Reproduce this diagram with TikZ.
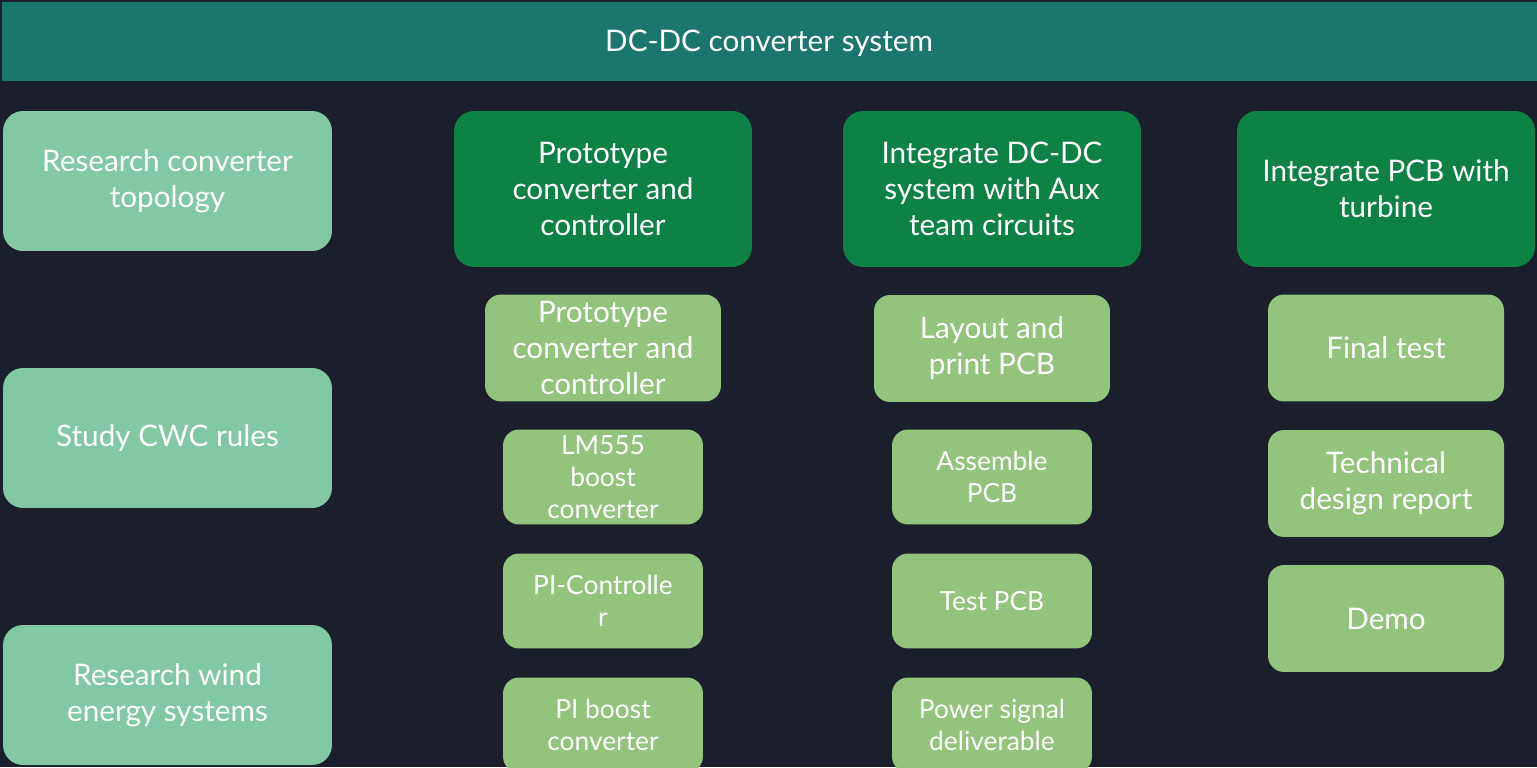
\documentclass[tikz,border=0pt]{standalone}
\usepackage{fontspec}
\setmainfont{Lato}
\usetikzlibrary{positioning}

\definecolor{bgdark}{HTML}{1B1F2B}
\definecolor{headteal}{HTML}{1B776D}
\definecolor{mint}{HTML}{82C8A5}
\definecolor{taskgreen}{HTML}{0E8145}
\definecolor{subgreen}{HTML}{92C47D}

\tikzset{
  every node/.style={text=white,align=center,inner sep=0pt},
  bigtxt/.style={font=\fontsize{16.9}{20.5}\selectfont},
  smalltxt/.style={font=\fontsize{15}{18.2}\selectfont},
  research/.style={bigtxt,fill=mint,rounded corners=0.4cm,minimum width=6.58cm,minimum height=2.8cm},
  task/.style={bigtxt,fill=taskgreen,rounded corners=0.4cm,minimum width=5.96cm,minimum height=3.12cm},
  subwide/.style={bigtxt,fill=subgreen,rounded corners=0.32cm,minimum width=4.72cm,minimum height=2.14cm},
  subnarrow/.style={smalltxt,fill=subgreen,rounded corners=0.32cm,minimum width=4cm,minimum height=1.9cm}
}

\begin{document}
\begin{tikzpicture}[x=0.02cm,y=-0.02cm]
\useasboundingbox (0,0) rectangle (1537,767);
\clip (0,0) rectangle (1537,767);
\fill[bgdark] (0,0) rectangle (1537,767);
\fill[headteal] (2,2) rectangle (1537,81);
\node[bigtxt] (title) at (769,43) {DC-DC converter system};

% research column
\node[research] (topology) at (167.5,181) {Research converter\\topology};
\node[research] (cwc) at (167.5,438) {Study CWC rules};
\node[research] (wind) at (167.5,695) {Research wind\\energy systems};

% main tasks
\node[task] (proto) at (603,189) {Prototype\\converter and\\controller};
\node[task] (integ) at (992,189) {Integrate DC-DC\\system with Aux\\team circuits};
\node[task] (turb) at (1386,189) {Integrate PCB with\\turbine};

% prototype subtasks
\node[subwide] (protosub) at (603,348) {Prototype\\converter and\\controller};
\node[subnarrow] (lm) at (603,477) {LM555\\boost\\converter};
\node[subnarrow] (pictrl) at (603,601) {PI-Controlle\\r};
\node[subnarrow] (piboost) at (603,725) {PI boost\\converter};

% integration subtasks
\node[subwide] (layout) at (992,348.5) {Layout and\\print PCB};
\node[subnarrow] (assemble) at (992,477) {Assemble\\PCB};
\node[subnarrow] (testpcb) at (992,601) {Test PCB};
\node[subnarrow] (power) at (992,725) {Power signal\\deliverable};

% turbine subtasks
\node[subwide] (final) at (1386,348) {Final test};
\node[subwide] (report) at (1386,483.5) {Technical\\design report};
\node[subwide] (demo) at (1386,618.5) {Demo};
\end{tikzpicture}
\end{document}
